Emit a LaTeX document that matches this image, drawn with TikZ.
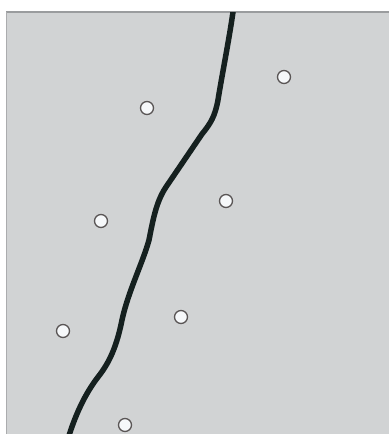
\documentclass[tikz,border=0pt]{standalone}
\definecolor{panel}{HTML}{D1D3D4}
\definecolor{edge}{HTML}{9A9C9E}
\definecolor{river}{HTML}{15201F}
\definecolor{dotline}{HTML}{5A5656}
\definecolor{dotfill}{HTML}{F6F8FA}
\tikzset{
  site/.style={circle, draw=dotline, fill=dotfill, line width=1.3pt, minimum size=13pt, inner sep=0pt},
  riverline/.style={draw=river, line width=5.5pt, line cap=round, line join=round}
}
\begin{document}
\begin{tikzpicture}[x=1pt,y=-1pt]
\useasboundingbox (0,0) rectangle (391,434);
\fill[white] (0,0) rectangle (391,434);
\fill[panel] (6,12) rectangle (389,434);
\draw[edge, line width=1.2pt] (6,12) -- (389,12);
\draw[edge!70!panel, line width=0.8pt] (6,12) -- (6,434);
\begin{scope}
\clip (6,12) rectangle (389,434);
\draw[riverline] (234,4) -- (233,12)
  .. controls (229,40) and (222,75) .. (218,100)
  .. controls (215,116) and (211,123) .. (202,134)
  -- (166,187)
  .. controls (156,202) and (153,220) .. (149,240)
  .. controls (143,262) and (128,292) .. (122,320)
  .. controls (117,345) and (110,362) .. (98,377)
  .. controls (85,394) and (75,415) .. (67,442);
\end{scope}
\node[site] (c1) at (147,108) {};
\node[site] (c2) at (284,77) {};
\node[site] (c3) at (226,201) {};
\node[site] (c4) at (101,221) {};
\node[site] (c5) at (181,317) {};
\node[site] (c6) at (63,331) {};
\node[site] (c7) at (125,425) {};
\end{tikzpicture}
\end{document}
